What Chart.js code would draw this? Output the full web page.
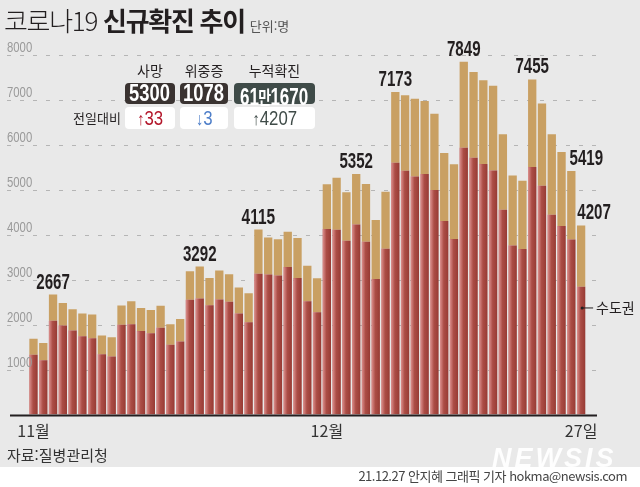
<!DOCTYPE html>
<html lang="ko">
<head>
<meta charset="utf-8">
<script src="https://cdn.jsdelivr.net/npm/chart.js@4.4.1/dist/chart.umd.min.js"></script>
<style>
  html, body { margin: 0; padding: 0; }
  body {
    width: 640px; height: 487px; position: relative; overflow: hidden;
    background: #e9e9e9; color: #231f20;
    font-family: "Noto Sans CJK KR", sans-serif;
  }
  #chart { position: absolute; left: 0; top: 0; }
  .strip { position: absolute; left: 0; top: 467px; width: 640px; height: 20px; background: #fff; }
  .title { position: absolute; left: 4px; top: 0; font-size: 26px; line-height: 40px; letter-spacing: -1.3px; white-space: nowrap; }
  .title .light { font-weight: 300; }
  .title b { font-weight: 700; }
  .title .unit { font-size: 13px; color: #555; letter-spacing: 0; margin-left: 5px; }
  .lbl { position: absolute; top: 60px; font-size: 14px; line-height: 20px; text-align: center; color: #231f20; }
  .box, .chg { position: absolute; border-radius: 4px; display: flex; justify-content: center; white-space: nowrap; }
  .box { top: 83px; height: 21px; color: #fff; font: bold 23px/21px "Liberation Sans", sans-serif; }
  .chg { top: 107px; height: 22px; background: #fff; font: 21px/22px "Liberation Sans", sans-serif; }
  .box span, .chg span { flex: none; display: inline-block; transform: scaleX(0.8); transform-origin: center; }
  .box span.tight { transform: scaleX(0.74); }
  .box small { font: bold 19px "Noto Sans CJK KR", sans-serif; margin: 0 -1px; }
  .chg i { font-style: normal; font-weight: bold; font-size: 18px; }
  .cmp { position: absolute; left: 73px; top: 109px; font-size: 13px; line-height: 18px; }
  .src { position: absolute; left: 7px; top: 445px; font-size: 15px; line-height: 20px; color: #333; }
  .credit { position: absolute; right: 13px; top: 468px; font-size: 13px; line-height: 16px; color: #444; letter-spacing: -0.5px; }
  .mark { position: absolute; left: 492px; top: 443px; font: italic bold 27px "Liberation Sans", sans-serif;
          color: rgba(255,255,255,0.92); letter-spacing: 3px; }
</style>
</head>
<body>
<div class="strip"></div>
<canvas id="chart" width="640" height="487"></canvas>

<div class="title"><span class="light">코로나19</span> <b>신규확진 추이</b><span class="unit">단위:명</span></div>

<div class="lbl" style="left:125px;width:50px">사망</div>
<div class="lbl" style="left:180px;width:48px">위중증</div>
<div class="lbl" style="left:234px;width:81px">누적확진</div>
<div class="box" style="left:125px;width:50px;background:#3a3331"><span>5300</span></div>
<div class="box" style="left:180px;width:48px;background:#3a3331"><span>1078</span></div>
<div class="box" style="left:234px;width:81px;background:#3f4b48"><span class="tight">61<small>만</small>1670</span></div>
<div class="cmp">전일대비</div>
<div class="chg" style="left:125px;width:50px;color:#b3172b"><span><i>↑</i>33</span></div>
<div class="chg" style="left:180px;width:48px;color:#4f7fc9"><span><i>↓</i>3</span></div>
<div class="chg" style="left:234px;width:81px;color:#3f4b48"><span><i>↑</i>4207</span></div>

<div class="mark">NEWSIS</div>
<div class="src">자료:질병관리청</div>
<div class="credit">21.12.27 안지혜 그래픽 기자 hokma@newsis.com</div>

<script>
// 2021.11.1 ~ 12.27 daily new cases (total) and capital area (수도권)
const days = [
  "11.1", "11.2", "11.3", "11.4", "11.5", "11.6", "11.7", "11.8", "11.9", "11.10",
  "11.11", "11.12", "11.13", "11.14", "11.15", "11.16", "11.17", "11.18", "11.19", "11.20",
  "11.21", "11.22", "11.23", "11.24", "11.25", "11.26", "11.27", "11.28", "11.29", "11.30",
  "12.1", "12.2", "12.3", "12.4", "12.5", "12.6", "12.7", "12.8", "12.9", "12.10",
  "12.11", "12.12", "12.13", "12.14", "12.15", "12.16", "12.17", "12.18", "12.19", "12.20",
  "12.21", "12.22", "12.23", "12.24", "12.25", "12.26", "12.27",
];
const totals = [
  1686, 1589, 2667, 2482, 2344, 2248, 2224, 1758, 1719, 2425,
  2520, 2368, 2324, 2419, 2006, 2125, 3187, 3292, 3034, 3205,
  3120, 2827, 2699, 4115, 3938, 3899, 4068, 3925, 3309, 3032,
  5123, 5266, 4944, 5352, 5128, 4325, 4954, 7173, 7102, 7022,
  6977, 6689, 5817, 5567, 7849, 7622, 7435, 7314, 6236, 5318,
  5202, 7455, 6919, 6233, 5842, 5419, 4207,
];
const capital = [
  1328, 1209, 2085, 1981, 1869, 1743, 1699, 1343, 1291, 1996,
  2010, 1855, 1810, 1929, 1550, 1625, 2552, 2582, 2433, 2559,
  2507, 2248, 2055, 3131, 3116, 3093, 3279, 3034, 2522, 2277,
  4125, 4110, 3865, 4228, 3843, 3012, 3687, 5601, 5423, 5297,
  5349, 4993, 4303, 3902, 5935, 5712, 5571, 5430, 4555, 3761,
  3680, 5504, 5089, 4444, 4191, 3895, 2841,
];
const others = totals.map((t, i) => t - capital[i]);

const yTicks = [1000, 2000, 3000, 4000, 5000, 6000, 7000, 8000];
const xTickLabels = ["11월", "12월", "27일"];
const xTickDays = ["11.1", "12.1", "12.27"];
const labelDays = ["11.3", "11.18", "11.24", "12.4", "12.8", "12.15", "12.22", "12.26", "12.27"];
const labelNudge = { "12.26": 15, "12.27": 13 }; // last two labels sit to the right

// draw text squeezed to a given width per character
function narrowText(ctx, txt, x, y, perChar) {
  const sx = Math.min(1, (txt.length * perChar) / ctx.measureText(txt).width);
  ctx.save();
  ctx.translate(x, y);
  ctx.scale(sx, 1);
  ctx.fillText(txt, 0, 0);
  ctx.restore();
}

const overlay = {
  id: "overlay",
  beforeDatasetsDraw(chart) {
    const { ctx } = chart;
    const y = chart.scales.y;
    ctx.save();
    ctx.strokeStyle = "#b5b5b5";
    ctx.lineWidth = 1;
    ctx.setLineDash([4, 9]);
    yTicks.forEach((v) => {
      const py = Math.round(y.getPixelForValue(v)) + 0.5;
      ctx.beginPath();
      ctx.moveTo(7, py);
      ctx.lineTo(598, py);
      ctx.stroke();
    });
    ctx.restore();
  },
  afterDatasetsDraw(chart) {
    const { ctx } = chart;
    const x = chart.scales.x;
    const y = chart.scales.y;
    const red = chart.getDatasetMeta(0).data;
    const tan = chart.getDatasetMeta(1).data;
    ctx.save();

    // soft highlight on the left side of each red bar
    red.forEach((el) => {
      const p = el.getProps(["x", "y", "base", "width"], true);
      const l = p.x - p.width / 2;
      const g = ctx.createLinearGradient(l, 0, l + p.width, 0);
      g.addColorStop(0, "rgba(240,170,170,0.75)");
      g.addColorStop(0.45, "rgba(240,170,170,0.1)");
      g.addColorStop(1, "rgba(60,0,0,0.12)");
      ctx.fillStyle = g;
      ctx.fillRect(l, p.y, p.width, p.base - p.y);
    });

    // y tick labels, above their grid lines
    ctx.font = '14px "Liberation Sans", sans-serif';
    ctx.fillStyle = "#9a9a9a";
    ctx.textAlign = "left";
    ctx.textBaseline = "alphabetic";
    yTicks.forEach((v) => {
      narrowText(ctx, String(v), 7, Math.round(y.getPixelForValue(v)) - 3, 6.3);
    });

    // base line
    const y0 = y.getPixelForValue(0);
    ctx.strokeStyle = "#231f20";
    ctx.lineWidth = 2;
    ctx.beginPath();
    ctx.moveTo(10, y0 + 1);
    ctx.lineTo(597, y0 + 1);
    ctx.stroke();

    // value labels
    ctx.fillStyle = "#231f20";
    ctx.font = 'bold 22px "Liberation Sans", sans-serif';
    ctx.textAlign = "center";
    labelDays.forEach((d) => {
      const i = days.indexOf(d);
      narrowText(ctx, String(totals[i]), tan[i].x + (labelNudge[d] || 0), tan[i].y - 6, 8.4);
    });

    // x labels
    ctx.font = '16px "Noto Sans CJK KR", sans-serif';
    ctx.fillStyle = "#333";
    ctx.textBaseline = "middle";
    xTickDays.forEach((d, k) => {
      ctx.fillText(xTickLabels[k], x.getPixelForValue(days.indexOf(d)), y0 + 16);
    });

    // 수도권 pointer
    const last = red[red.length - 1];
    const py = y.getPixelForValue(2370);
    ctx.strokeStyle = "#231f20";
    ctx.lineWidth = 1;
    ctx.beginPath();
    ctx.moveTo(last.x + 1, py);
    ctx.lineTo(last.x + 12, py);
    ctx.stroke();
    ctx.beginPath();
    ctx.arc(last.x + 1, py, 1.5, 0, Math.PI * 2);
    ctx.fillStyle = "#231f20";
    ctx.fill();
    ctx.font = '14px "Noto Sans CJK KR", sans-serif';
    ctx.textAlign = "left";
    ctx.fillText("수도권", last.x + 15, py);
    ctx.restore();
  },
};

new Chart(document.getElementById("chart"), {
  type: "bar",
  data: {
    labels: days,
    datasets: [
      { label: "수도권", data: capital, backgroundColor: "#a3423a", borderWidth: 0 },
      { label: "비수도권", data: others, backgroundColor: "#c9a063", borderWidth: 0 },
    ],
  },
  options: {
    responsive: false,
    animation: false,
    devicePixelRatio: 1,
    layout: { padding: { left: 28.6, right: 54, top: 54.9, bottom: 72.5 } },
    datasets: { bar: { barPercentage: 0.85, categoryPercentage: 1 } },
    plugins: { legend: { display: false }, tooltip: { enabled: false } },
    scales: {
      x: { stacked: true, display: false },
      y: { stacked: true, display: false, min: 0, max: 8000 },
    },
  },
  plugins: [overlay],
});
</script>
</body>
</html>
